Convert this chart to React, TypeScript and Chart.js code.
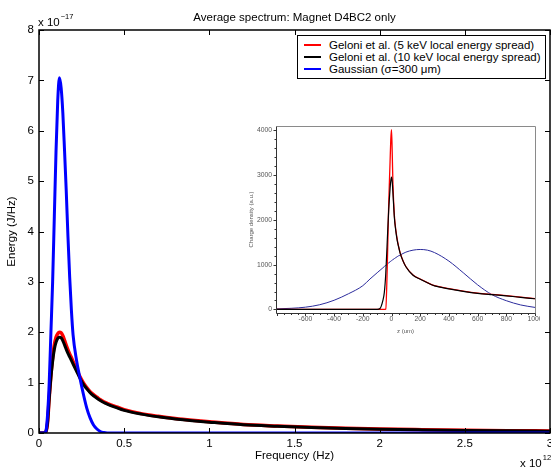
import React, { useEffect, useRef } from 'react';
import { Chart, registerables } from 'chart.js';

Chart.register(...registerables);

const FONT = "'Liberation Sans', Arial, Helvetica, sans-serif";

// ---------- Main chart data (frequency in units of 1e12 Hz, energy in units of 1e-17 J/Hz)
const FREQ = [0, 0.02, 0.03, 0.04, 0.05, 0.06, 0.07, 0.08, 0.09, 0.1, 0.11, 0.12, 0.13, 0.14, 0.15, 0.16, 0.17, 0.18, 0.19, 0.2,
  0.22, 0.24, 0.26, 0.28, 0.3, 0.32, 0.34, 0.36, 0.38, 0.4, 0.45, 0.5, 0.6, 0.7, 0.8, 0.9, 1.0, 1.2, 1.4, 1.6, 1.8, 2.0, 2.25, 2.5, 2.75, 3.0];
const GELONI_5KEV = [0, 0, 0, 0.02, 0.2, 0.7, 1.15, 1.5, 1.75, 1.9, 1.97, 2.0, 1.99, 1.93, 1.84, 1.74, 1.65, 1.57, 1.5, 1.42,
  1.27, 1.12, 1.0, 0.9, 0.82, 0.76, 0.71, 0.66, 0.62, 0.59, 0.525, 0.465, 0.385, 0.332, 0.288, 0.253, 0.223, 0.17, 0.14, 0.115, 0.095, 0.08, 0.067, 0.056, 0.047, 0.04];
const GELONI_10KEV = [0, 0, 0, 0.02, 0.2, 0.68, 1.1, 1.42, 1.66, 1.8, 1.88, 1.9, 1.89, 1.83, 1.75, 1.66, 1.58, 1.51, 1.44, 1.37,
  1.23, 1.09, 0.97, 0.88, 0.8, 0.74, 0.69, 0.645, 0.605, 0.575, 0.51, 0.45, 0.375, 0.322, 0.28, 0.245, 0.215, 0.163, 0.133, 0.108, 0.089, 0.075, 0.062, 0.051, 0.043, 0.036];
const GAUSSIAN = [0, 0, 0, 0.03, 0.35, 1.0, 2.0, 3.0, 4.3, 5.6, 6.6, 7.05, 6.85, 6.35, 5.6, 4.8, 3.9, 3.1, 2.45, 1.95,
  1.45, 1.1, 0.78, 0.5, 0.3, 0.16, 0.08, 0.03, 0.01, 0, 0, 0, 0, 0, 0, 0, 0, 0, 0, 0, 0, 0, 0, 0, 0, 0];

const SERIES_LABELS = [
  'Geloni et al. (5 keV local energy spread)',
  'Geloni et al. (10 keV local energy spread)',
  'Gaussian (σ=300 μm)',
];
const SERIES_COLORS = ['#ff0000', '#000000', '#0000ff'];

const MAIN_TITLE = 'Average spectrum: Magnet D4BC2 only';
const X_TITLE = 'Frequency (Hz)';
const Y_TITLE = 'Energy (J/Hz)';
const X_TICKS = [0, 0.5, 1, 1.5, 2, 2.5, 3];
const Y_TICKS = [0, 1, 2, 3, 4, 5, 6, 7, 8];

// ---------- Inset data (z in um, charge density in a.u.)
const Z_UM = [-800, -700, -600, -500, -400, -300, -200, -150, -100, -80, -60, -50, -40, -30, -20, -10, -5, 0, 5, 10,
  20, 30, 40, 50, 60, 80, 100, 150, 200, 250, 300, 400, 500, 600, 700, 800, 900, 1000];
const CHARGE_5KEV = [0, 0, 0, 0, 0, 0, 0, 0, 0, 0, 0, 0, 10, 900, 2300, 3300, 3800, 4020, 3500, 2800,
  2100, 1780, 1560, 1400, 1270, 1090, 960, 770, 680, 600, 530, 465, 410, 365, 335, 308, 275, 242];
const CHARGE_10KEV = [0, 0, 0, 0, 0, 0, 0, 0, 0, 20, 200, 380, 800, 1500, 2200, 2700, 2880, 2960, 2850, 2600,
  2050, 1750, 1540, 1390, 1260, 1085, 955, 765, 675, 595, 525, 460, 405, 360, 330, 303, 270, 238];
const CHARGE_GAUSS = [12, 25, 50, 105, 205, 350, 530, 680, 820, 875, 930, 960, 985, 1010, 1040, 1065, 1078, 1090, 1102, 1114,
  1136, 1158, 1180, 1200, 1215, 1250, 1280, 1325, 1340, 1325, 1270, 1080, 820, 550, 330, 195, 100, 45];
const INSET_COLORS = ['#ff0000', '#000000', '#2b2b9c'];
const INSET_X_TICKS = [-600, -400, -200, 0, 200, 400, 600, 800, 1000];
const INSET_Y_TICKS = [0, 1000, 2000, 3000, 4000];
const INSET_X_TITLE = 'z (um)';
const INSET_Y_TITLE = 'Charge density (a.u.)';

const toPoints = (xs: number[], ys: number[]) => xs.map((x, i) => ({ x, y: ys[i] }));

const mainAxesPlugin = {
  id: 'mainAxes',
  afterDatasetsDraw(chart: any) {
    const { ctx, chartArea: a, scales } = chart;
    ctx.save();
    ctx.strokeStyle = '#000';
    ctx.lineWidth = 1.5;
    ctx.strokeRect(a.left, a.top, a.right - a.left, a.bottom - a.top);
    ctx.lineWidth = 1;
    const tl = 5;
    ctx.beginPath();
    scales.x.ticks.forEach((t: any) => {
      const p = Math.round(scales.x.getPixelForValue(t.value)) + 0.5;
      ctx.moveTo(p, a.bottom); ctx.lineTo(p, a.bottom - tl);
      ctx.moveTo(p, a.top); ctx.lineTo(p, a.top + tl);
    });
    scales.y.ticks.forEach((t: any) => {
      const p = Math.round(scales.y.getPixelForValue(t.value)) + 0.5;
      ctx.moveTo(a.left, p); ctx.lineTo(a.left + tl, p);
      ctx.moveTo(a.right, p); ctx.lineTo(a.right - tl, p);
    });
    ctx.stroke();
    ctx.restore();
  },
  afterDraw(chart: any) {
    const { ctx } = chart;
    ctx.save();
    ctx.fillStyle = '#000';
    ctx.textBaseline = 'alphabetic';
    ctx.textAlign = 'left';
    ctx.font = `11.5px ${FONT}`;
    ctx.fillText('x 10', 38, 26);
    let w = ctx.measureText('x 10').width;
    ctx.font = `7.5px ${FONT}`;
    ctx.fillText('−17', 38 + w + 1, 19);
    ctx.font = `11.5px ${FONT}`;
    ctx.fillText('x 10', 520, 467);
    w = ctx.measureText('x 10').width;
    ctx.font = `7.5px ${FONT}`;
    ctx.fillText('12', 520 + w + 1, 460);
    ctx.restore();
  },
};

const insetAxesPlugin = {
  id: 'insetAxes',
  afterDatasetsDraw(chart: any) {
    const { ctx, chartArea: a, scales } = chart;
    ctx.save();
    ctx.lineWidth = 1;
    const L = Math.round(a.left) + 0.5;
    const R = Math.round(a.right) + 0.5;
    const T = Math.round(a.top) + 0.5;
    const B = Math.round(a.bottom) + 0.5;
    ctx.strokeStyle = '#8a8a8a';
    ctx.beginPath();
    ctx.moveTo(L, T); ctx.lineTo(R, T); ctx.lineTo(R, B);
    ctx.stroke();
    ctx.strokeStyle = '#333';
    ctx.beginPath();
    ctx.moveTo(L, T); ctx.lineTo(L, B); ctx.lineTo(R, B);
    for (let v = -800; v <= 1000; v += 50) {
      const p = Math.round(scales.x.getPixelForValue(v)) + 0.5;
      if (p < L - 0.1 || p > R + 0.1) continue;
      const len = v % 200 === 0 ? 2.5 : 1.5;
      ctx.moveTo(p, B); ctx.lineTo(p, B + len);
    }
    for (let v = 0; v <= 4000; v += 200) {
      const p = Math.round(scales.y.getPixelForValue(v)) + 0.5;
      const len = v % 1000 === 0 ? 3 : 2;
      ctx.moveTo(L, p); ctx.lineTo(L - len, p);
    }
    ctx.stroke();
    ctx.restore();
  },
};

const fixX = (h: number) => (s: any) => {
  s.height = h; s.paddingLeft = 0; s.paddingRight = 0; s.paddingTop = 0; s.paddingBottom = 0;
};
const fixY = (w: number) => (s: any) => {
  s.width = w; s.paddingLeft = 0; s.paddingRight = 0; s.paddingTop = 0; s.paddingBottom = 0;
};

export default function App() {
  const mainRef = useRef<HTMLCanvasElement>(null);
  const insetRef = useRef<HTMLCanvasElement>(null);

  useEffect(() => {
    const font = (size: number) => ({ family: FONT, size, weight: 'normal' as const });
    const main = new Chart(mainRef.current as HTMLCanvasElement, {
      type: 'line',
      data: {
        datasets: [
          { label: SERIES_LABELS[0], data: toPoints(FREQ, GELONI_5KEV), borderColor: SERIES_COLORS[0], borderWidth: 3.5, order: 2 },
          { label: SERIES_LABELS[1], data: toPoints(FREQ, GELONI_10KEV), borderColor: SERIES_COLORS[1], borderWidth: 3, order: 1 },
          { label: SERIES_LABELS[2], data: toPoints(FREQ, GAUSSIAN), borderColor: SERIES_COLORS[2], borderWidth: 3, order: 0 },
        ],
      },
      options: {
        animation: false,
        responsive: false,
        devicePixelRatio: 1,
        layout: { padding: { left: 0, right: 1, top: 0, bottom: 0 }, autoPadding: false },
        elements: {
          point: { radius: 0 },
          line: { cubicInterpolationMode: 'monotone', fill: false, borderCapStyle: 'round', borderJoinStyle: 'round' },
        },
        plugins: {
          legend: { display: false },
          tooltip: { enabled: false },
          title: {
            display: true, text: MAIN_TITLE, fullSize: false, color: '#000', font: font(11.5),
            padding: { top: 10.6, bottom: 5.6 },
          },
        },
        scales: {
          x: {
            type: 'linear', min: 0, max: 3,
            grid: { display: false, drawTicks: false, tickLength: 0 },
            border: { display: false },
            ticks: { padding: 4.1, color: '#000', font: font(11.5), maxRotation: 0, autoSkip: false, callback: (v: any) => String(v) },
            title: { display: true, text: X_TITLE, color: '#000', font: font(11.5), padding: { top: 0, bottom: 4.1 } },
            afterBuildTicks: (s: any) => { s.ticks = X_TICKS.map((value) => ({ value })); },
            afterFit: fixX(34),
          },
          y: {
            type: 'linear', min: 0, max: 8,
            grid: { display: false, drawTicks: false, tickLength: 0 },
            border: { display: false },
            ticks: { padding: 5, color: '#000', font: font(11.5), autoSkip: false, callback: (v: any) => String(v) },
            title: { display: true, text: Y_TITLE, color: '#000', font: font(11.5), padding: { top: 5.1, bottom: 0 } },
            afterBuildTicks: (s: any) => { s.ticks = Y_TICKS.map((value) => ({ value })); },
            afterFit: fixY(39),
          },
        },
      },
      plugins: [mainAxesPlugin],
    });

    const inset = new Chart(insetRef.current as HTMLCanvasElement, {
      type: 'line',
      data: {
        datasets: [
          { label: SERIES_LABELS[0], data: toPoints(Z_UM, CHARGE_5KEV), borderColor: INSET_COLORS[0], borderWidth: 1.3, order: 1 },
          { label: SERIES_LABELS[1], data: toPoints(Z_UM, CHARGE_10KEV), borderColor: INSET_COLORS[1], borderWidth: 1.2, order: 0 },
          { label: SERIES_LABELS[2], data: toPoints(Z_UM, CHARGE_GAUSS), borderColor: INSET_COLORS[2], borderWidth: 1, order: 2 },
        ],
      },
      options: {
        animation: false,
        responsive: false,
        devicePixelRatio: 1,
        layout: { padding: { left: 0, right: 5, top: 8, bottom: 0 }, autoPadding: false },
        elements: {
          point: { radius: 0 },
          line: { cubicInterpolationMode: 'monotone', fill: false },
        },
        plugins: { legend: { display: false }, tooltip: { enabled: false }, title: { display: false } },
        scales: {
          x: {
            type: 'linear', min: -805, max: 1000,
            grid: { display: false, drawTicks: false, tickLength: 0 },
            border: { display: false },
            ticks: { padding: 2.5, color: '#555', font: font(6.8), maxRotation: 0, autoSkip: false, callback: (v: any) => String(v) },
            title: { display: true, text: INSET_X_TITLE, color: '#555', font: font(6), padding: { top: 0, bottom: 8.4 } },
            afterBuildTicks: (s: any) => { s.ticks = INSET_X_TICKS.map((value) => ({ value })); },
            afterFit: fixX(30),
          },
          y: {
            type: 'linear', min: -80, max: 4100,
            grid: { display: false, drawTicks: false, tickLength: 0 },
            border: { display: false },
            ticks: { padding: 4, color: '#555', font: font(6.8), autoSkip: false, callback: (v: any) => String(v) },
            title: { display: true, text: INSET_Y_TITLE, color: '#555', font: font(6), padding: { top: 11.4, bottom: 0 } },
            afterBuildTicks: (s: any) => { s.ticks = INSET_Y_TICKS.map((value) => ({ value })); },
            afterFit: fixY(40),
          },
        },
      },
      plugins: [insetAxesPlugin],
    });

    return () => { main.destroy(); inset.destroy(); };
  }, []);

  return (
    <div style={{ position: 'fixed', left: 0, top: 0, width: 551, height: 467, background: '#fff', overflow: 'hidden' }}>
      <canvas ref={mainRef} width={551} height={467} style={{ position: 'absolute', left: 0, top: 0, width: 551, height: 467 }} />
      <canvas ref={insetRef} width={304} height={225} style={{ position: 'absolute', left: 236, top: 118, width: 304, height: 225 }} />
      <div
        style={{
          position: 'absolute', left: 297, top: 35, width: 249, height: 44, boxSizing: 'border-box',
          border: '1.5px solid #000', background: '#fff', fontFamily: FONT, fontSize: 11.5, color: '#000',
        }}
      >
        {SERIES_LABELS.map((label, i) => (
          <div key={label} style={{ position: 'absolute', left: 0, top: 9 + i * 12.2 - 8, height: 16, width: '100%' }}>
            <div style={{ position: 'absolute', left: 6, top: 7, width: 17, height: 2, background: SERIES_COLORS[i] }} />
            <div style={{ position: 'absolute', left: 31, top: 0, lineHeight: '16px', whiteSpace: 'nowrap' }}>{label}</div>
          </div>
        ))}
      </div>
    </div>
  );
}
